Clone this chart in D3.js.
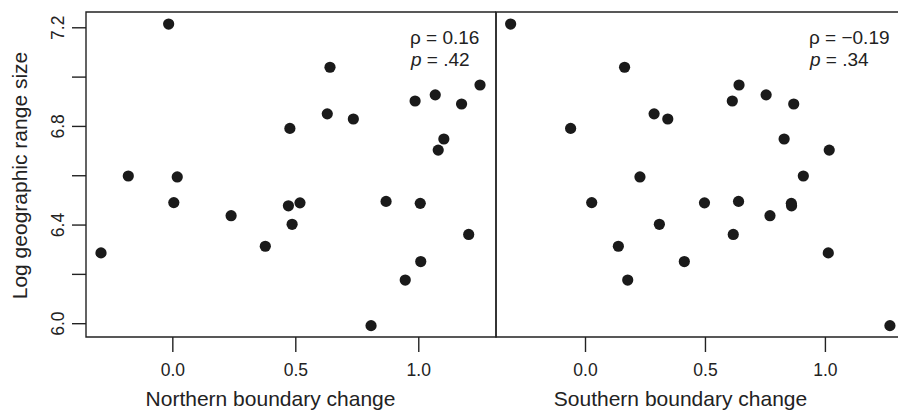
<!DOCTYPE html>
<html>
<head>
<meta charset="utf-8">
<script src="https://cdn.jsdelivr.net/npm/d3@7"></script>
<style>
  body { margin: 0; background: #fff; }
  svg { display: block; font-family: 'Liberation Sans', Arial, sans-serif; }
  .axis path, .axis line { stroke: #222; stroke-width: 1.4; }
  .axis text { fill: #222; font-size: 17.5px; }
</style>
</head>
<body>
<div id="chart"></div>
<script>
'use strict';

// log geographic range size, one value per species (shared by both panels)
var rangeSize = [7.213, 7.038, 6.966, 6.926, 6.901, 6.889, 6.849, 6.828, 6.79, 6.747, 6.702,
  6.597, 6.593, 6.494, 6.489, 6.488, 6.486, 6.476, 6.436, 6.401, 6.36, 6.312, 6.285, 6.25, 6.175, 5.99];
var northChange = [-0.015, 0.641, 1.251, 1.069, 0.987, 1.176, 0.63, 0.736, 0.478, 1.104, 1.081,
  -0.179, 0.02, 0.869, 0.006, 0.519, 1.008, 0.472, 0.239, 0.487, 1.205, 0.378, -0.29, 1.01, 0.947, 0.808];
var southChange = [-0.31, 0.165, 0.642, 0.755, 0.614, 0.87, 0.288, 0.345, -0.06, 0.83, 1.018,
  0.91, 0.229, 0.64, 0.028, 0.498, 0.86, 0.861, 0.771, 0.31, 0.618, 0.139, 1.014, 0.414, 0.178, 1.271];

var xTicks = [0.0, 0.5, 1.0];
var yTicks = [6.0, 6.2, 6.4, 6.6, 6.8, 7.0, 7.2];
var yLabelled = [6.0, 6.4, 6.8, 7.2];

var panels = [
  { name: 'Northern boundary change', values: northChange, domain: [-0.351, 1.316], rho: '0.16', p: '.42' },
  { name: 'Southern boundary change', values: southChange, domain: [-0.371, 1.338], rho: '\u22120.19', p: '.34' }
];

var width = 898, height = 413;
var margin = { top: 12, left: 86, bottom: 76 };
var panelWidth = 410;
var plotBottom = height - margin.bottom;
var statsOffset = [324, 313];

var svg = d3.select('#chart').append('svg')
  .attr('width', width)
  .attr('height', height);

var y = d3.scaleLinear()
  .domain([5.944, 7.262])
  .range([plotBottom, margin.top]);

// y axis, labels rotated as in base R graphics
var yAxis = svg.append('g')
  .attr('class', 'axis')
  .attr('transform', 'translate(' + margin.left + ',0)')
  .call(d3.axisLeft(y).tickValues(yTicks).tickSize(14).tickSizeOuter(0)
    .tickFormat(function(d) { return yLabelled.some(function(v) { return Math.abs(v - d) < 1e-6; }) ? d3.format('.1f')(d) : ''; }));
yAxis.select('.domain').remove();
yAxis.selectAll('text')
  .attr('x', 0).attr('dy', null)
  .attr('text-anchor', 'middle')
  .attr('transform', 'translate(-22.5,0) rotate(-90)');

svg.append('text')
  .attr('transform', 'translate(27,' + ((margin.top + plotBottom) / 2 + 1) + ') rotate(-90)')
  .attr('text-anchor', 'middle')
  .attr('fill', '#222')
  .style('font-size', '21px')
  .text('Log geographic range size');

panels.forEach(function(panel, i) {
  var x0 = margin.left + i * panelWidth;
  var x = d3.scaleLinear().domain(panel.domain).range([x0, x0 + panelWidth]);

  var g = svg.append('g');

  var xAxis = g.append('g')
    .attr('class', 'axis')
    .attr('transform', 'translate(0,' + plotBottom + ')')
    .call(d3.axisBottom(x).tickValues(xTicks).tickSize(15).tickSizeOuter(0).tickFormat(d3.format('.1f')));
  xAxis.select('.domain').remove();
  xAxis.selectAll('text').attr('y', 39).attr('dy', null);

  // frame: left panel boxed, right panel open at the image edge
  g.append('path')
    .attr('fill', 'none')
    .attr('stroke', '#222')
    .attr('stroke-width', 1.4)
    .attr('d', 'M' + (x0 + panelWidth) + ',' + margin.top + 'H' + x0 + 'V' + plotBottom + 'H' + (x0 + panelWidth) +
      (i === 0 ? 'V' + margin.top : ''));

  g.selectAll('circle')
    .data(panel.values)
    .enter()
    .append('circle')
    .attr('cx', function(d) { return x(d); })
    .attr('cy', function(d, j) { return y(rangeSize[j]); })
    .attr('r', 5.6)
    .attr('fill', '#1a1a1a');

  g.append('text')
    .attr('x', x0 + panelWidth / 2 - 20.5)
    .attr('y', 406)
    .attr('text-anchor', 'middle')
    .attr('fill', '#222')
    .style('font-size', '21px')
    .text(panel.name);

  var stats = g.append('text')
    .attr('fill', '#222')
    .style('font-size', '19px');
  stats.append('tspan')
    .attr('x', x0 + statsOffset[i]).attr('y', 43.5)
    .text('\u03c1 = ' + panel.rho);
  var pLine = stats.append('tspan')
    .attr('x', x0 + statsOffset[i] + 1).attr('y', 65.5);
  pLine.append('tspan').style('font-style', 'italic').text('p');
  pLine.append('tspan').text(' = ' + panel.p);
});
</script>
</body>
</html>
